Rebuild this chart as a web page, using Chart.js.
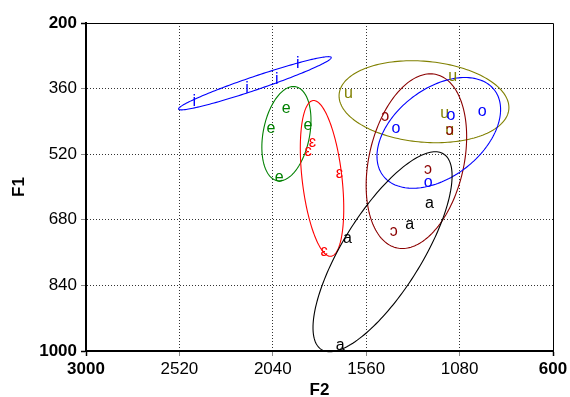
<!DOCTYPE html>
<html>
<head>
<meta charset="utf-8">
<script src="https://cdn.jsdelivr.net/npm/chart.js@4/dist/chart.umd.min.js"></script>
<style>
  html, body { margin: 0; padding: 0; background: #fff; }
  #wrap { width: 570px; height: 397px; }
</style>
</head>
<body>
<div id="wrap"><canvas id="c"></canvas></div>
<script>
// Vowel categories and their colours
const vowels = ['i', 'e', 'ɛ', 'u', 'ɔ', 'o', 'a'];
const vowelColors = ['#0000ff', '#008000', '#ff0000', '#808000', '#8b0000', '#0000ff', '#000000'];

// Token formant measurements (Hz), one F2 array and one F1 array per vowel
const iF2 = [2444, 2173, 2019, 1911];
const iF1 = [390, 357, 335, 296];
const eF2 = [1971, 2050, 1859, 2007];
const eF1 = [406, 455, 449, 575];
const epsF2 = [1837, 1858, 1697, 1776];
const epsF1 = [490, 510, 566, 756];
const uF2 = [1651, 1116, 1157, 1131];
const uF1 = [369, 329, 419, 461];
const openoF2 = [1462, 1242, 1419, 1131];
const openoF1 = [427, 554, 707, 461];
const oF2 = [1124, 964, 1407, 1242];
const oF1 = [424, 414, 454, 587];
const aF2 = [1235, 1337, 1656, 1693];
const aF1 = [638, 689, 724, 985];

// Axis ticks
const f2Ticks = [3000, 2520, 2040, 1560, 1080, 600];
const f1Ticks = [200, 360, 520, 680, 840, 1000];

// Dispersion ellipses: [centre F2, centre F1, semi-diameter 1 (dF2, dF1), conjugate semi-diameter 2 (dF2, dF1)]
const ellI     = [2132, 347, -392, -63, -11, 15.5];
const ellE     = [1970, 470, -36, -115, -121, 0];
const ellEps   = [1787, 579, 43, -190, -103, 0];
const ellU     = [1263, 392, 62, -100, -432, 0];
const ellOpenO = [1302, 537, -72, -213, -248, 0];
const ellO     = [1187, 468, -134, -135, -288, 0];
const ellA     = [1476, 758, -271, -244, -233, 0];

const f2Sets = [iF2, eF2, epsF2, uF2, openoF2, oF2, aF2];
const f1Sets = [iF1, eF1, epsF1, uF1, openoF1, oF1, aF1];
const ellipses = [ellI, ellE, ellEps, ellU, ellOpenO, ellO, ellA];

const FONT = "'Liberation Sans', Arial, Helvetica, sans-serif";

const datasets = vowels.map((v, k) => ({
  label: v,
  data: f2Sets[k].map((f2, j) => ({ x: f2, y: f1Sets[k][j] })),
  pointRadius: 0,
  pointHoverRadius: 0,
  showLine: false,
  color: vowelColors[k]
}));

// Ellipse outlines traced through the chart's scales
const ellipsePlugin = {
  id: 'vowelEllipses',
  beforeDatasetsDraw(chart) {
    const { ctx, scales: { x, y } } = chart;
    ctx.save();
    ellipses.forEach((e, k) => {
      ctx.beginPath();
      const n = 180;
      for (let s = 0; s <= n; s++) {
        const t = (s / n) * 2 * Math.PI;
        const f2 = e[0] + e[2] * Math.cos(t) + e[4] * Math.sin(t);
        const f1 = e[1] + e[3] * Math.cos(t) + e[5] * Math.sin(t);
        const px = x.getPixelForValue(f2);
        const py = y.getPixelForValue(f1);
        if (s === 0) ctx.moveTo(px, py); else ctx.lineTo(px, py);
      }
      ctx.closePath();
      ctx.strokeStyle = vowelColors[k];
      ctx.lineWidth = 1.1;
      ctx.stroke();
    });
    ctx.restore();
  }
};

// Vowel symbols drawn at each token position
const symbolPlugin = {
  id: 'vowelSymbols',
  afterDatasetsDraw(chart) {
    const { ctx } = chart;
    ctx.save();
    ctx.font = '16px ' + FONT;
    ctx.textAlign = 'center';
    ctx.textBaseline = 'middle';
    chart.data.datasets.forEach((ds, k) => {
      const meta = chart.getDatasetMeta(k);
      ctx.fillStyle = vowelColors[k];
      meta.data.forEach(pt => {
        ctx.fillText(ds.label, pt.x, pt.y + 1);
      });
    });
    ctx.restore();
  }
};

// Thin frame on the top and right sides of the plot area
const framePlugin = {
  id: 'frame',
  afterDraw(chart) {
    const { ctx, chartArea: a } = chart;
    ctx.save();
    ctx.strokeStyle = '#000';
    ctx.lineWidth = 1;
    ctx.beginPath();
    ctx.moveTo(a.left, a.top + 0.5);
    ctx.lineTo(a.right + 0.5, a.top + 0.5);
    ctx.lineTo(a.right + 0.5, a.bottom);
    ctx.stroke();
    ctx.restore();
  }
};

const isEnd = (c, n) => c.index === 0 || c.index === n - 1;

new Chart(document.getElementById('c'), {
  type: 'scatter',
  data: { datasets },
  options: {
    responsive: true,
    maintainAspectRatio: false,
    animation: false,
    events: [],
    layout: { padding: { top: 23, right: 17, left: 0, bottom: 0 } },
    plugins: { legend: { display: false }, tooltip: { enabled: false } },
    scales: {
      x: {
        type: 'linear',
        reverse: true,
        min: 600,
        max: 3000,
        afterBuildTicks: s => { s.ticks = f2Ticks.slice().sort((a, b) => a - b).map(v => ({ value: v })); },
        afterFit: s => { s.height = 46; },
        border: { color: '#000', width: 2, dash: [1, 2] },
        grid: {
          color: c => (isEnd(c, f2Ticks.length) ? 'rgba(0,0,0,0)' : '#333'),
          lineWidth: 1,
          drawTicks: true,
          tickLength: 5,
          tickColor: c => (isEnd(c, f2Ticks.length) ? '#000' : '#888'),
          tickWidth: c => (isEnd(c, f2Ticks.length) ? 1.5 : 1)
        },
        ticks: {
          color: '#000',
          padding: 3,
          maxRotation: 0,
          autoSkip: false,
          callback: v => String(v),
          font: c => ({ family: FONT, size: 17, weight: isEnd(c, f2Ticks.length) ? 'bold' : 'normal' })
        },
        title: {
          display: true,
          text: 'F2',
          color: '#000',
          font: { family: FONT, size: 17, weight: 'bold', lineHeight: 1 },
          padding: { top: 0, bottom: -2 }
        }
      },
      y: {
        type: 'linear',
        reverse: true,
        min: 200,
        max: 1000,
        afterBuildTicks: s => { s.ticks = f1Ticks.map(v => ({ value: v })); },
        afterFit: s => { s.width = 86; },
        border: { color: '#000', width: 2, dash: [1, 2] },
        grid: {
          color: c => (isEnd(c, f1Ticks.length) ? 'rgba(0,0,0,0)' : '#333'),
          lineWidth: 1,
          drawTicks: true,
          tickLength: 5,
          tickColor: c => (isEnd(c, f1Ticks.length) ? '#000' : '#888'),
          tickWidth: c => (isEnd(c, f1Ticks.length) ? 1.5 : 1)
        },
        ticks: {
          color: '#000',
          padding: 4,
          autoSkip: false,
          callback: v => String(v),
          font: c => ({ family: FONT, size: 17, weight: isEnd(c, f1Ticks.length) ? 'bold' : 'normal' })
        },
        title: {
          display: true,
          text: 'F1',
          color: '#000',
          font: { family: FONT, size: 17, weight: 'bold', lineHeight: 1 },
          padding: { top: 11, bottom: 0 }
        }
      }
    }
  },
  plugins: [ellipsePlugin, symbolPlugin, framePlugin]
});
</script>
</body>
</html>
